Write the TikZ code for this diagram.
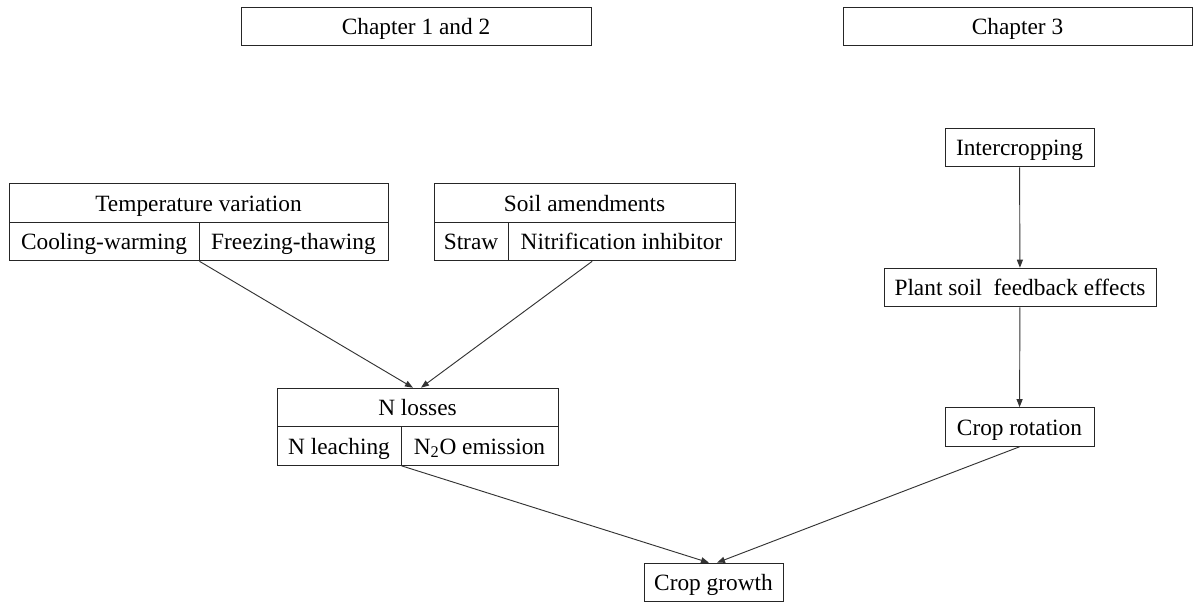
\documentclass[tikz,border=0pt]{standalone}
\usepackage{fontspec}
\setmainfont{Liberation Serif}
\usetikzlibrary{arrows.meta}

\begin{document}
\begin{tikzpicture}[x=0.75pt,y=0.75pt,yscale=-1,xscale=1,
  cell/.style={draw=black!85,line width=0.7pt,rectangle,inner sep=0pt,minimum height=29pt,text height=12.5pt,text depth=0pt,font=\fontsize{17.5}{21}\selectfont},
  link/.style={draw=black!80,line width=0.7pt,-{Triangle[length=6pt,width=4.5pt]}}]
%set diagram to the reference size
\useasboundingbox (0,0) rectangle (1196,601);

%Shape: Rectangle (titles)
\node[cell,minimum width=262.5pt] (chone) at (416,26.5) {Chapter 1 and 2};
\node[cell,minimum width=261.75pt] (chthree) at (1017.5,26.5) {Chapter 3};

%Shape: Rectangle (temperature)
\node[cell,minimum width=284.25pt] (temp) at (198.5,203) {Temperature variation};
\node[cell,minimum width=142.5pt] (cool) at (104,241.5) {Cooling-warming};
\node[cell,minimum width=141.75pt] (freeze) at (293.5,241.5) {Freezing-thawing};

%Shape: Rectangle (soil)
\node[cell,minimum width=225.75pt] (soil) at (584.5,203) {Soil amendments};
\node[cell,minimum width=55.5pt] (straw) at (471,241.5) {Straw};
\node[cell,minimum width=170.25pt] (nitri) at (621.5,241.5) {Nitrification inhibitor};

%Shape: Rectangle (N losses)
\node[cell,minimum width=210.75pt] (nloss) at (417.5,407.5) {N losses};
\node[cell,minimum width=93pt] (leach) at (339,446) {N leaching};
\node[cell,minimum width=117.75pt] (ntwo) at (479.5,446) {N\textsubscript{2}O emission};

%Shape: Rectangle (chapter 3 column)
\node[cell,minimum width=111.75pt] (inter) at (1019.5,147.5) {Intercropping};
\node[cell,minimum width=204pt] (plant) at (1020,287.5) {Plant soil\hspace{0.25em} feedback effects};
\node[cell,minimum width=111.75pt] (rot) at (1019.5,427) {Crop rotation};

%Shape: Rectangle (bottom)
\node[cell,minimum width=104.25pt] (grow) at (713.5,582.5) {Crop growth};

%Straight Lines
\draw[link] (cool.south east) -- ([xshift=-3.4pt]nloss.north);
\draw[link] ([xshift=-22pt]nitri.south) -- ([xshift=2.6pt]nloss.north);
\draw[link] (leach.south east) -- ([xshift=-3.4pt]grow.north);
\draw[link] (rot.south) -- ([xshift=2.6pt]grow.north);
\draw[link] (inter) -- (plant);
\draw[link] (plant) -- (rot);

\end{tikzpicture}
\end{document}
